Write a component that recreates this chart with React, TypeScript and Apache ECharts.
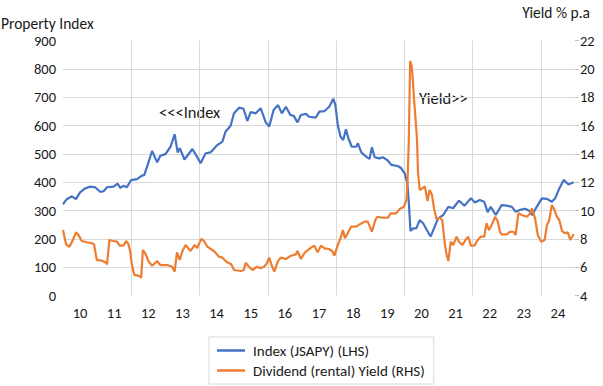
import React, { useEffect, useRef } from "react";
import * as echarts from "echarts";

// Property index (LHS) – decimal year / value
const indexDates = [
  2010.0, 2010.11, 2010.26, 2010.38, 2010.5, 2010.65, 2010.79, 2010.94, 2011.09, 2011.19,
  2011.29, 2011.48, 2011.6, 2011.68, 2011.77, 2011.87, 2011.99, 2012.17, 2012.31, 2012.38,
  2012.48, 2012.61, 2012.76, 2012.85, 2013.0, 2013.15, 2013.27, 2013.36, 2013.42, 2013.56,
  2013.79, 2013.91, 2014.03, 2014.18, 2014.32, 2014.52, 2014.67, 2014.76, 2014.91, 2015.01,
  2015.16, 2015.29, 2015.4, 2015.5, 2015.65, 2015.79, 2015.94, 2016.04, 2016.17, 2016.3,
  2016.41, 2016.53, 2016.66, 2016.76, 2016.87, 2016.97, 2017.12, 2017.21, 2017.41, 2017.51,
  2017.66, 2017.8, 2017.92, 2017.98, 2018.05, 2018.13, 2018.21, 2018.29, 2018.36, 2018.46,
  2018.59, 2018.64, 2018.74, 2018.88, 2018.98, 2019.05, 2019.13, 2019.27, 2019.37, 2019.5,
  2019.62, 2019.81, 2019.91, 2020.01, 2020.09, 2020.13, 2020.18, 2020.26, 2020.35, 2020.45,
  2020.55, 2020.65, 2020.77, 2020.89, 2020.99, 2021.14, 2021.29, 2021.43, 2021.6, 2021.76,
  2021.95, 2022.07, 2022.21, 2022.34, 2022.44, 2022.53, 2022.68, 2022.85, 2023.0, 2023.15,
  2023.26, 2023.39, 2023.54, 2023.66, 2023.74, 2023.88, 2024.03, 2024.18, 2024.32, 2024.42,
  2024.54, 2024.67, 2024.81, 2024.96,
];
const indexValues = [
  322, 340, 350, 340, 364, 378, 384, 382, 366, 368,
  382, 384, 395, 380, 387, 382, 407, 411, 423, 425,
  461, 510, 470, 493, 499, 525, 569, 505, 520, 480,
  517, 493, 467, 502, 505, 531, 543, 578, 599, 643,
  663, 659, 616, 647, 643, 661, 611, 596, 655, 672,
  643, 666, 637, 634, 611, 637, 641, 631, 628, 649,
  651, 666, 694, 672, 602, 561, 549, 587, 555, 525,
  525, 537, 505, 490, 482, 523, 488, 484, 488, 478,
  461, 457, 449, 431, 396, 331, 228, 237, 237, 266,
  255, 233, 208, 243, 272, 284, 313, 308, 335, 317,
  343, 328, 337, 331, 294, 313, 284, 319, 317, 313,
  296, 302, 306, 299, 284, 313, 343, 341, 331, 343,
  378, 408, 392, 400,
];

// Dividend (rental) yield (RHS) – decimal year / % p.a.
const yieldDates = [
  2010.0, 2010.09, 2010.19, 2010.29, 2010.38, 2010.45, 2010.55, 2010.7, 2010.84, 2010.91,
  2010.99, 2011.14, 2011.24, 2011.29, 2011.36, 2011.48, 2011.58, 2011.66, 2011.77, 2011.85,
  2011.92, 2011.97, 2012.02, 2012.09, 2012.21, 2012.29, 2012.34, 2012.41, 2012.51, 2012.61,
  2012.76, 2012.85, 2013.05, 2013.2, 2013.27, 2013.34, 2013.42, 2013.49, 2013.59, 2013.74,
  2013.85, 2013.93, 2014.05, 2014.13, 2014.23, 2014.42, 2014.57, 2014.67, 2014.81, 2014.93,
  2015.01, 2015.21, 2015.3, 2015.35, 2015.45, 2015.55, 2015.68, 2015.79, 2015.89, 2015.97,
  2016.04, 2016.11, 2016.19, 2016.29, 2016.38, 2016.53, 2016.68, 2016.82, 2016.87, 2016.97,
  2017.09, 2017.21, 2017.36, 2017.46, 2017.56, 2017.66, 2017.8, 2017.9, 2017.95, 2018.05,
  2018.13, 2018.2, 2018.26, 2018.34, 2018.44, 2018.59, 2018.69, 2018.83, 2018.93, 2019.05,
  2019.15, 2019.21, 2019.37, 2019.52, 2019.6, 2019.76, 2019.86, 2019.99, 2020.06, 2020.09,
  2020.13, 2020.17, 2020.21, 2020.24, 2020.29, 2020.32, 2020.37, 2020.4, 2020.45, 2020.52,
  2020.6, 2020.68, 2020.74, 2020.81, 2020.87, 2020.94, 2021.04, 2021.11, 2021.19, 2021.24,
  2021.29, 2021.36, 2021.43, 2021.53, 2021.6, 2021.7, 2021.79, 2021.87, 2021.95, 2022.05,
  2022.15, 2022.24, 2022.34, 2022.41, 2022.48, 2022.56, 2022.66, 2022.74, 2022.8, 2022.85,
  2023.0, 2023.1, 2023.2, 2023.26, 2023.34, 2023.44, 2023.59, 2023.69, 2023.74, 2023.83,
  2023.91, 2024.01, 2024.11, 2024.18, 2024.24, 2024.32, 2024.4, 2024.47, 2024.54, 2024.62,
  2024.71, 2024.79, 2024.86, 2024.96,
];
const yieldValues = [
  8.62, 7.61, 7.44, 7.92, 8.46, 8.28, 7.85, 7.76, 7.69, 7.61,
  6.51, 6.46, 6.34, 6.2, 7.92, 7.85, 7.8, 7.52, 7.52, 7.85,
  7.61, 7.09, 6.15, 5.45, 5.4, 5.26, 7.21, 6.98, 6.39, 6.1,
  6.43, 6.15, 6.15, 6.03, 5.68, 7.05, 6.51, 7.09, 7.56, 7.14,
  7.56, 7.35, 7.99, 7.85, 7.44, 7.14, 6.74, 6.67, 6.34, 6.2,
  5.8, 5.73, 5.8, 6.31, 6.03, 5.8, 6.03, 5.92, 6.03, 6.27,
  6.67, 6.15, 5.68, 6.39, 6.67, 6.58, 6.81, 6.9, 7.14, 6.58,
  7.05, 7.28, 7.52, 7.05, 7.52, 7.33, 7.28, 7.09, 6.81, 7.56,
  8.04, 8.62, 8.04, 8.39, 8.86, 8.86, 9.02, 9.21, 9.21, 8.5,
  9.33, 9.56, 9.49, 9.49, 9.8, 9.8, 10.1, 10.27, 10.74, 11.8,
  14.85, 20.55, 20.27, 19.56, 17.68, 16.74, 15.1, 12.74, 11.45, 11.55,
  11.7, 10.67, 11.45, 11.1, 10.15, 9.4, 9.49, 9.33, 7.56, 6.86,
  6.43, 7.8, 7.56, 8.15, 7.8, 7.56, 7.92, 8.15, 7.52, 7.52,
  7.92, 8.15, 8.15, 9.1, 8.62, 8.98, 9.56, 9.21, 8.5, 8.32,
  8.32, 8.5, 8.5, 8.27, 9.8, 9.68, 9.56, 9.8, 10.15, 9.44,
  8.27, 7.8, 7.92, 8.98, 9.26, 10.38, 10.03, 9.56, 9.33, 8.55,
  8.39, 8.46, 7.92, 8.32,
];

const yearTickLabels = ["10", "11", "12", "13", "14", "15", "16", "17", "18", "19", "20", "21", "22", "23", "24"];
const seriesNames = ["Index (JSAPY) (LHS)", "Dividend (rental) Yield (RHS)"];
const leftAxisTitle = "Property Index";
const rightAxisTitle = "Yield % p.a";
const indexNote = "<<<Index";
const yieldNote = "Yield>>";

const FONT = "Carlito, Lato, 'Liberation Sans', sans-serif";
const TXT = "#1a1a1a";
const GRID = "#d9d9d9";

export default function App() {
  const ref = useRef<HTMLDivElement>(null);
  useEffect(() => {
    if (!ref.current) return;
    const chart = echarts.init(ref.current, undefined, { renderer: "svg" });
    const indexData = indexDates.map((d, i) => [d, indexValues[i]]);
    const yieldData = yieldDates.map((d, i) => [d, yieldValues[i]]);
    chart.setOption({
      animation: false,
      backgroundColor: "#ffffff",
      textStyle: { fontFamily: FONT },
      grid: { left: 63, right: 28, top: 40.5, bottom: 90.5, containLabel: false },
      xAxis: [
        {
          type: "value",
          min: 2010,
          max: 2025,
          interval: 0.5,
          axisLine: { show: false },
          axisTick: { show: false },
          splitLine: { show: false },
          axisLabel: {
            margin: 10,
            fontSize: 14.5,
            color: TXT,
            fontFamily: FONT,
            formatter: (v: number) => {
              const frac = Math.round((v % 1) * 10);
              if (frac !== 5) return "";
              const idx = Math.floor(v) - 2010;
              return yearTickLabels[idx] ?? "";
            },
          },
        },
        {
          type: "value",
          min: 2010,
          max: 2025,
          interval: 2,
          position: "bottom",
          axisLine: { show: false },
          axisTick: { show: false },
          axisLabel: { show: false },
          splitLine: {
            show: true,
            showMinLine: false,
            showMaxLine: false,
            lineStyle: { color: GRID, width: 1 },
          },
        },
      ],
      yAxis: [
        {
          type: "value",
          min: 0,
          max: 900,
          interval: 100,
          axisLine: { show: false },
          axisTick: { show: false },
          axisLabel: { margin: 7, fontSize: 14.5, color: TXT, fontFamily: FONT },
          splitLine: {
            show: true,
            showMinLine: false,
            showMaxLine: false,
            lineStyle: { color: GRID, width: 1 },
          },
        },
        {
          type: "value",
          min: 4,
          max: 22,
          interval: 2,
          position: "right",
          axisLine: { show: false },
          axisTick: { show: true, length: 4, inside: false, lineStyle: { color: "#bfbfbf" } },
          axisLabel: { margin: 5, fontSize: 14.5, color: TXT, fontFamily: FONT },
          splitLine: { show: false },
        },
      ],
      legend: {
        orient: "vertical",
        left: 209,
        top: 337,
        itemWidth: 28,
        itemHeight: 2.5,
        itemGap: 5,
        icon: "rect",
        padding: [6, 9, 6, 8],
        borderColor: GRID,
        borderWidth: 1,
        textStyle: { fontSize: 15, color: TXT, fontFamily: FONT, padding: [0, 0, 0, 3] },
        data: seriesNames,
      },
      graphic: [
        {
          type: "text",
          x: 1,
          y: 23,
          style: { text: leftAxisTitle, font: `15.5px ${FONT}`, fill: TXT, align: "left", verticalAlign: "middle" },
        },
        {
          type: "text",
          x: 590,
          y: 12.5,
          style: { text: rightAxisTitle, font: `15.5px ${FONT}`, fill: TXT, align: "right", verticalAlign: "middle" },
        },
        {
          type: "text",
          x: 159,
          y: 112,
          style: { text: indexNote, font: `16.5px ${FONT}`, fill: TXT, align: "left", verticalAlign: "middle" },
        },
        {
          type: "text",
          x: 419,
          y: 98,
          style: { text: yieldNote, font: `16.5px ${FONT}`, fill: TXT, align: "left", verticalAlign: "middle" },
        },
      ],
      series: [
        {
          name: seriesNames[0],
          type: "line",
          xAxisIndex: 0,
          yAxisIndex: 0,
          data: indexData,
          showSymbol: false,
          symbol: "none",
          lineStyle: { color: "#4472C4", width: 2.2 },
          itemStyle: { color: "#4472C4" },
        },
        {
          name: seriesNames[1],
          type: "line",
          xAxisIndex: 0,
          yAxisIndex: 1,
          data: yieldData,
          showSymbol: false,
          symbol: "none",
          lineStyle: { color: "#ED7D31", width: 2.2 },
          itemStyle: { color: "#ED7D31" },
        },
      ],
    });
    return () => chart.dispose();
  }, []);
  return (
    <div
      ref={ref}
      style={{ position: "fixed", left: 0, top: 0, width: 603, height: 386, background: "#fff" }}
    />
  );
}
